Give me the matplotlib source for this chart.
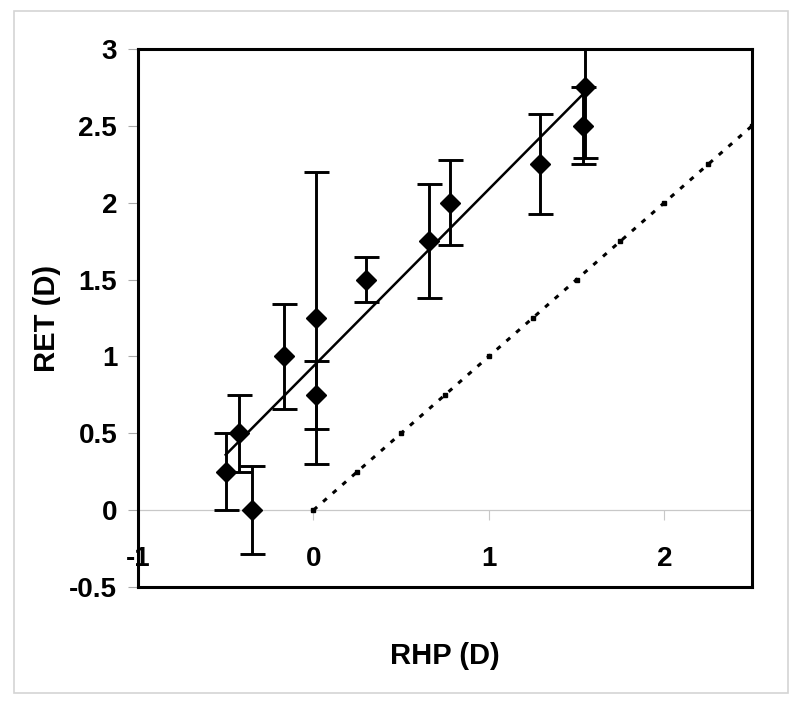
import matplotlib
matplotlib.use("Agg")
import matplotlib.pyplot as plt
from matplotlib.patches import Rectangle

# Data

rhp = [-0.50, -0.425, -0.35, -0.17, 0.013, 0.013, 0.30, 0.657, 0.776, 1.29, 1.538, 1.55]
ret = [0.25, 0.50, 0.00, 1.00, 1.25, 0.75, 1.50, 1.75, 2.00, 2.25, 2.50, 2.75]
ret_err = [0.25, 0.25, 0.285, 0.34, 0.95, 0.22, 0.147, 0.372, 0.276, 0.326, 0.25, 0.46]

# regression line (end points)
fit_x = [-0.50, 1.54]
fit_y = [0.36, 2.71]

# identity line RET = RHP
ident_x = [0.0, 0.25, 0.5, 0.75, 1.0, 1.25, 1.5, 1.75, 2.0, 2.25, 2.5]
ident_y = [0.0, 0.25, 0.5, 0.75, 1.0, 1.25, 1.5, 1.75, 2.0, 2.25, 2.5]

x_ticks = [-1, 0, 1, 2]
x_ticklabels = ["-1", "0", "1", "2"]
y_ticks = [-0.5, 0, 0.5, 1, 1.5, 2, 2.5, 3]
y_ticklabels = ["-0.5", "0", "0.5", "1", "1.5", "2", "2.5", "3"]

plt.rcParams["font.family"] = ["Liberation Sans", "DejaVu Sans"]
plt.rcParams["font.weight"] = "bold"

fig = plt.figure(figsize=(8, 7.11), dpi=100)
ax = fig.add_axes([138 / 800, 1 - 587 / 711, 614 / 800, 538 / 711])

# outer chart frame
fig.patches.append(Rectangle((14 / 800, 1 - 693 / 711), 774 / 800, 682 / 711,
                             transform=fig.transFigure, fill=False,
                             edgecolor="#d4d4d4", linewidth=1.2))

ax.plot(ident_x, ident_y, color="black", linewidth=2.2,
        linestyle=(0, (1.6, 2.6)), marker="s", markersize=3.5, zorder=2)
ax.plot(fit_x, fit_y, color="black", linewidth=1.8, zorder=3)
ax.errorbar(rhp, ret, yerr=ret_err, fmt="D", color="black", markersize=10,
            ecolor="black", elinewidth=2.1, capsize=9, capthick=2.1, zorder=4)

ax.set_xlim(-1, 2.5)
ax.set_ylim(-0.5, 3)

for s in ax.spines.values():
    s.set_linewidth(2.2)
    s.set_color("black")

ax.tick_params(axis="x", bottom=False, labelbottom=False)
ax.set_yticks(y_ticks)
ax.set_yticklabels(y_ticklabels)
ax.tick_params(axis="y", direction="out", length=7, width=0.8, color="#aaaaaa",
               labelsize=20, pad=8)

# x axis crossing at RET = 0
sec = ax.secondary_xaxis((0 - (-0.5)) / 3.5)
sec.spines["bottom"].set_color("#c8c8c8")
sec.spines["bottom"].set_linewidth(0.9)
sec.set_xticks(x_ticks)
sec.set_xticklabels(x_ticklabels)
sec.tick_params(direction="out", length=7, width=0.8, color="#c8c8c8",
                labelsize=20, pad=19)

ax.set_xlabel("RHP (D)", fontsize=21, fontweight="bold")
ax.xaxis.set_label_coords(0.5, -0.102)
ax.set_ylabel("RET (D)", fontsize=21, fontweight="bold")
ax.yaxis.set_label_coords(-0.125, 0.5)

fig.savefig("out.png", dpi=100)
